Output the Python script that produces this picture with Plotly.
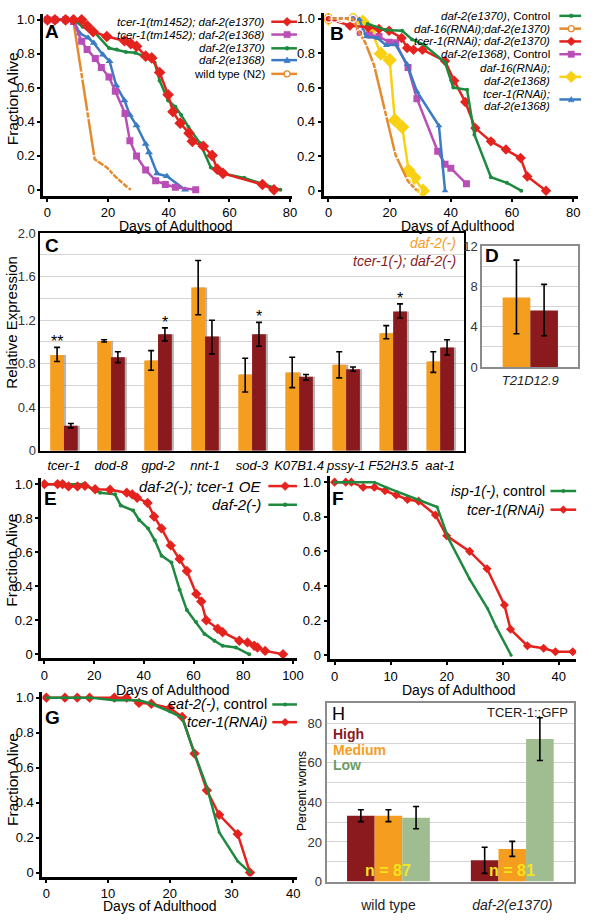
import plotly.graph_objects as go

W, H = 594, 922
FONT = "Liberation Sans, Arial, Helvetica, sans-serif"

RED = "#e4231f"
MAG = "#b94fb6"
GRN = "#1d8a3f"
BLU = "#3b7bc3"
ORG = "#e68a2e"
YEL = "#f9d114"
BAR_ORG = "#f59d1e"
BAR_RED = "#8a1a1d"
BAR_LOW = "#9fbd90"
LOW_TXT = "#6d9c66"
NYEL = "#f2e41c"
SHADOW = "rgba(110,110,110,0.5)"

# ---------------- data ----------------
SURV_TICKS = [0, 0.2, 0.4, 0.6, 0.8, 1.0]
SURV_LABELS = ["0", "0.2", "0.4", "0.6", "0.8", "1.0"]

# Panel A
A_red_x = [0, 2.5, 6, 8.6, 11.3, 13.2, 15.1, 19.6, 25.4, 27.5, 29.4, 32.4, 34.4, 37, 39.8, 41.4, 43.8, 46.7, 47.8, 51.4, 54.3, 56, 57.9, 70.9, 74.7]
A_red_y = [1, 1, 1, 1, 1, 0.963, 0.93, 0.902, 0.877, 0.86, 0.844, 0.786, 0.776, 0.69, 0.559, 0.459, 0.392, 0.333, 0.285, 0.256, 0.202, 0.121, 0.096, 0.031, 0.0]
A_mag_x = [0, 2.5, 6, 8.6, 11.3, 13.1, 15.8, 17.8, 20.3, 22.4, 25.6, 27.2, 29.4, 32.4, 35.7, 38.9, 42.2, 48.9]
A_mag_y = [1, 1, 1, 0.99, 0.874, 0.826, 0.772, 0.72, 0.663, 0.58, 0.449, 0.289, 0.198, 0.117, 0.053, 0.031, 0.015, 0.0]
A_grn_x = [0, 8.6, 11.6, 15.6, 20.3, 22.9, 25.9, 28.9, 32.4, 35.4, 37, 39.8, 42.2, 44.1, 46.5, 50.3, 53.9, 57.9, 64.9, 76.8]
A_grn_y = [1, 1, 0.96, 0.926, 0.834, 0.825, 0.811, 0.806, 0.782, 0.747, 0.642, 0.526, 0.488, 0.44, 0.37, 0.275, 0.131, 0.096, 0.07, 0.0]
A_blu_x = [0, 8.6, 10.7, 13.4, 15.3, 18.3, 20.5, 22.7, 25.4, 27.2, 29.4, 32.4, 33.5, 36.2, 39.4, 45.4]
A_blu_y = [1, 0.997, 0.92, 0.895, 0.863, 0.795, 0.757, 0.613, 0.526, 0.44, 0.378, 0.27, 0.219, 0.095, 0.08, 0.0]
A_org_x = [0, 2.5, 6, 8.6, 11.3, 13.2, 15.6, 19.6, 22.4, 25.7, 27.5]
A_org_y = [1, 1, 1, 0.99, 0.672, 0.44, 0.18, 0.131, 0.077, 0.025, 0.0]

# Panel B
B_grn_x = [12.8, 18.7, 24.1, 27.3, 31.1, 38.1, 40.8, 45.3, 47.7, 53.1, 58.3, 63]
B_grn_y = [0.97, 0.935, 0.93, 0.88, 0.85, 0.745, 0.60, 0.587, 0.326, 0.078, 0.046, 0.0]
B_org_x = [0, 2, 4, 6, 8, 10.1, 12, 14.9, 18.7, 21.9, 26, 28.9]
B_org_y = [1, 1, 1, 1, 1, 0.916, 0.863, 0.73, 0.45, 0.208, 0.055, 0.0]
B_red_x = [0, 7, 13, 16.5, 19.8, 23.9, 25.7, 27.8, 30.7, 38.1, 41.1, 44.7, 48, 53.1, 58, 62.8, 65, 71.1]
B_red_y = [1, 0.96, 0.95, 0.94, 0.93, 0.888, 0.83, 0.82, 0.82, 0.754, 0.64, 0.516, 0.364, 0.287, 0.24, 0.19, 0.083, 0.0]
B_mag_x = [0, 8, 10.1, 13.3, 16.5, 19.8, 22, 26, 28.9, 35.7, 38.1, 40, 45.1]
B_mag_y = [1, 1, 0.92, 0.906, 0.897, 0.863, 0.86, 0.716, 0.535, 0.23, 0.154, 0.131, 0.04]
B_yel_x = [0, 8, 11.2, 13.9, 17.1, 20, 21.7, 24.1, 26.2, 28.1, 30.9]
B_yel_y = [1, 1, 0.983, 0.935, 0.797, 0.76, 0.41, 0.37, 0.117, 0.075, 0.0]
B_blu_x = [0, 8, 10.1, 12.3, 16, 18.9, 21.9, 25.7, 28.9, 36.1, 38.1]
B_blu_y = [1, 1, 0.995, 0.896, 0.888, 0.844, 0.85, 0.735, 0.577, 0.378, 0.0]

# Panel C
C_genes = ["tcer-1", "dod-8", "gpd-2", "nnt-1", "sod-3", "K07B1.4", "pssy-1", "F52H3.5", "aat-1"]
C_daf2 = [0.88, 1.01, 0.83, 1.50, 0.70, 0.72, 0.79, 1.08, 0.82]
C_daf2_lo = [0.82, 1.00, 0.74, 1.25, 0.54, 0.58, 0.67, 1.03, 0.72]
C_daf2_hi = [0.95, 1.02, 0.92, 1.75, 0.85, 0.86, 0.91, 1.15, 0.91]
C_tcer = [0.23, 0.86, 1.07, 1.05, 1.07, 0.68, 0.75, 1.28, 0.95]
C_tcer_lo = [0.21, 0.81, 1.01, 0.89, 0.96, 0.65, 0.73, 1.22, 0.88]
C_tcer_hi = [0.25, 0.91, 1.13, 1.20, 1.18, 0.70, 0.77, 1.35, 1.02]
C_stars = [("tcer-1", "daf2", "**"), ("gpd-2", "tcer", "*"), ("sod-3", "tcer", "*"), ("F52H3.5", "tcer", "*")]
C_TICKS = [0, 0.4, 0.8, 1.2, 1.6, 2.0]
C_LABELS = ["0", "0.4", "0.8", "1.2", "1.6", "2.0"]

# Panel D
D_gene = ["T21D12.9"]
D_daf2 = [6.9]
D_daf2_lo = [3.3]
D_daf2_hi = [10.6]
D_tcer = [5.6]
D_tcer_lo = [3.1]
D_tcer_hi = [8.2]

# Panel E
E_red_x = [0, 5.3, 7.3, 9.7, 13.3, 16.3, 20.4, 26.4, 33.1, 35.3, 37.3, 41.5, 44.1, 47.1, 50.8, 54.4, 57.3, 61.1, 63.1, 65.1, 69.7, 71.7, 78.4, 81.7, 84.4, 85.7, 88.8, 96]
E_red_y = [1, 1, 1, 0.987, 0.987, 0.99, 0.97, 0.967, 0.95, 0.94, 0.92, 0.89, 0.81, 0.74, 0.64, 0.56, 0.49, 0.355, 0.31, 0.2, 0.15, 0.13, 0.08, 0.07, 0.05, 0.04, 0.02, 0.0]
E_grn_x = [0, 15.6, 22.4, 28.4, 30.7, 35.7, 38.1, 41.7, 44.4, 47.1, 51.1, 54.4, 57.3, 61, 64.4, 68.4, 71.7, 77, 82.4]
E_grn_y = [1, 1, 0.95, 0.94, 0.875, 0.845, 0.79, 0.74, 0.67, 0.58, 0.54, 0.38, 0.26, 0.19, 0.12, 0.08, 0.05, 0.04, 0.0]

# Panel F
F_grn_x = [0, 7.1, 9.2, 11.2, 15.0, 18.3, 20.3, 24.1, 27.3, 28.8, 31.5]
F_grn_y = [1, 1, 0.97, 0.945, 0.9, 0.856, 0.676, 0.44, 0.27, 0.165, 0.0]
F_red_x = [0, 2, 3, 5.1, 7.1, 9, 11, 13, 15, 18, 20, 24.1, 27.2, 30.3, 31.4, 34.4, 37.3, 39.4, 42.5]
F_red_y = [1, 1, 1, 0.97, 0.97, 0.95, 0.926, 0.9, 0.89, 0.81, 0.69, 0.6, 0.5, 0.29, 0.15, 0.055, 0.04, 0.02, 0.02]

# Panel G
G_red_x = [0, 3, 5, 7, 11, 13, 15, 17, 20, 22, 24, 26, 28, 31, 33]
G_red_y = [1, 1, 1, 1, 1, 1, 0.97, 0.965, 0.94, 0.89, 0.68, 0.47, 0.33, 0.22, 0.0]
G_grn_x = [0, 3, 5, 7, 11, 15, 17, 20, 22, 24, 26, 28, 31, 33]
G_grn_y = [1, 1, 1, 1, 0.985, 0.985, 0.965, 0.92, 0.885, 0.68, 0.49, 0.23, 0.065, 0.0]

# Panel H
H_groups = ["wild type", "daf-2(e1370)"]
H_group_labels = ["wild type", "<i>daf-2(e1370)</i>"]
H_high = [33.3, 10.7]
H_high_err = [3.0, 6.6]
H_med = [33.3, 16.5]
H_med_err = [3.0, 3.8]
H_low = [32.3, 72.0]
H_low_err = [5.6, 10.8]
H_n = ["n = 87", "n = 81"]

# ---------------- helpers ----------------
fig = go.Figure()
shapes = []
anns = []


def dom_x(a, b):
    return [a / W, b / W]


def dom_y(top, bot):
    return [1 - bot / H, 1 - top / H]


def text(t, xp, yp, size=13, color="black", xanchor="center", yanchor="middle",
         angle=0, bold=False, italic=False):
    if bold:
        t = "<b>" + t + "</b>"
    if italic:
        t = "<i>" + t + "</i>"
    anns.append(dict(text=t, xref="paper", yref="paper", x=xp / W, y=1 - yp / H,
                     xanchor=xanchor, yanchor=yanchor, showarrow=False, textangle=angle,
                     font=dict(family=FONT, size=size, color=color)))


def marker_shape(xm, ym, sym, r, color):
    X = lambda v: v / W
    Y = lambda v: 1 - v / H
    if sym == "diamond":
        path = (f"M {X(xm)},{Y(ym - r)} L {X(xm + r)},{Y(ym)} L {X(xm)},{Y(ym + r)} "
                f"L {X(xm - r)},{Y(ym)} Z")
        shapes.append(dict(type="path", xref="paper", yref="paper", path=path,
                           fillcolor=color, line=dict(color=color, width=0.5)))
    elif sym == "square":
        shapes.append(dict(type="rect", xref="paper", yref="paper", x0=X(xm - r), x1=X(xm + r),
                           y0=Y(ym + r), y1=Y(ym - r), fillcolor=color, line=dict(color=color, width=0.5)))
    elif sym == "triangle":
        path = (f"M {X(xm)},{Y(ym - r)} L {X(xm + r)},{Y(ym + r * 0.8)} L {X(xm - r)},{Y(ym + r * 0.8)} Z")
        shapes.append(dict(type="path", xref="paper", yref="paper", path=path,
                           fillcolor=color, line=dict(color=color, width=0.5)))
    elif sym == "circle":
        shapes.append(dict(type="circle", xref="paper", yref="paper", x0=X(xm - r), x1=X(xm + r),
                           y0=Y(ym + r), y1=Y(ym - r), fillcolor=color, line=dict(color=color, width=0.5)))
    elif sym == "open":
        shapes.append(dict(type="circle", xref="paper", yref="paper", x0=X(xm - r), x1=X(xm + r),
                           y0=Y(ym + r), y1=Y(ym - r), fillcolor="white", line=dict(color=color, width=1.3)))


def legend_line(yp, x0, x1, xm, color, sym, r):
    shapes.append(dict(type="line", xref="paper", yref="paper", x0=x0 / W, x1=x1 / W,
                       y0=1 - yp / H, y1=1 - yp / H, line=dict(color=color, width=2.5)))
    marker_shape(xm, yp, sym, r, color)


def surv(xs, ys, color, symbol, size, ax, width=2.5):
    open_ = symbol.endswith("open")
    fig.add_trace(go.Scatter(
        x=xs, y=ys, mode="lines+markers", xaxis="x" + ax, yaxis="y" + ax,
        line=dict(color=color, width=width),
        marker=dict(symbol=symbol, size=size, color=color if not open_ else "white",
                    line=dict(width=1.3 if open_ else 0, color=color)),
        showlegend=False, hoverinfo="skip"))


def surv_axes(ax, xdom, ydom, xr, yr, dtick):
    k = ax
    common = dict(showline=True, linecolor="black", linewidth=3, ticks="outside", ticklen=3,
                  tickwidth=2, tickcolor="black", showgrid=False, zeroline=False,
                  tickfont=dict(family=FONT, size=13, color="black"))
    fig.layout["xaxis" + k] = dict(domain=xdom, range=xr, dtick=dtick, tick0=0,
                                   anchor="y" + k, **common)
    fig.layout["yaxis" + k] = dict(domain=ydom, range=yr, tickvals=SURV_TICKS, ticktext=SURV_LABELS,
                                   anchor="x" + k, **common)


# ---------------- Panel A ----------------
surv(A_org_x, A_org_y, ORG, "circle-open", 7, "")
surv(A_blu_x, A_blu_y, BLU, "triangle-up", 7, "")
surv(A_mag_x, A_mag_y, MAG, "square", 7, "")
surv(A_grn_x, A_grn_y, GRN, "circle", 4, "")
surv(A_red_x, A_red_y, RED, "diamond", 9, "")
surv_axes("", dom_x(43, 295), dom_y(7, 192), [-1.3, 80.65], [-0.036, 1.035], 20)

# ---------------- Panel B ----------------
surv(B_yel_x, B_yel_y, YEL, "diamond", 11, "2")
surv(B_mag_x, B_mag_y, MAG, "square", 7, "2")
surv(B_blu_x, B_blu_y, BLU, "triangle-up", 6, "2")
surv(B_red_x, B_red_y, RED, "diamond", 8, "2")
surv(B_org_x, B_org_y, ORG, "circle-open", 7, "2")
surv(B_grn_x, B_grn_y, GRN, "circle", 4, "2")
surv_axes("2", dom_x(327, 585), dom_y(6, 192), [-1.6, 81.6], [-0.03, 1.034], 20)

# ---------------- Panel C ----------------
BW = 0.293
SH = 0.045


def errs(vals, lo, hi):
    return [h - v for v, h in zip(vals, hi)], [v - l for v, l in zip(vals, lo)]


for vals, off in [(C_daf2, -BW + SH), (C_tcer, SH)]:
    fig.add_trace(go.Bar(x=C_genes, y=vals, xaxis="x3", yaxis="y3", marker_color=SHADOW,
                         marker_line_width=0, width=BW, offset=off, showlegend=False, hoverinfo="skip"))
p, m = errs(C_daf2, C_daf2_lo, C_daf2_hi)
fig.add_trace(go.Bar(x=C_genes, y=C_daf2, xaxis="x3", yaxis="y3", marker_color=BAR_ORG,
                     marker_line_width=0, width=BW, offset=-BW, showlegend=False, hoverinfo="skip",
                     error_y=dict(type="data", symmetric=False, array=p, arrayminus=m,
                                  color="black", thickness=1.6, width=3)))
p, m = errs(C_tcer, C_tcer_lo, C_tcer_hi)
fig.add_trace(go.Bar(x=C_genes, y=C_tcer, xaxis="x3", yaxis="y3", marker_color=BAR_RED,
                     marker_line_width=0, width=BW, offset=0, showlegend=False, hoverinfo="skip",
                     error_y=dict(type="data", symmetric=False, array=p, arrayminus=m,
                                  color="black", thickness=1.6, width=3)))
fig.layout.xaxis3 = dict(domain=dom_x(40, 469), type="category", range=[-0.5, 8.5], anchor="y3",
                         showline=True, mirror=True, linecolor="black", linewidth=2, ticks="",
                         tickangle=0, ticklabelstandoff=2,
                         tickfont=dict(family=FONT, size=13, color="black", style="italic"))
fig.layout.yaxis3 = dict(domain=dom_y(230, 451), range=[0, 2], anchor="x3", tickvals=C_TICKS,
                         ticktext=C_LABELS, showline=True, mirror=True, linecolor="black", linewidth=2,
                         ticks="", showgrid=True, gridcolor="#d4d4d4", gridwidth=1, zeroline=False,
                         minor=dict(dtick=0.2, showgrid=True, gridcolor="#d4d4d4", gridwidth=1),
                         tickfont=dict(family=FONT, size=13, color="#333"))
for gene, series, star in C_stars:
    i = C_genes.index(gene)
    top = C_daf2_hi[i] if series == "daf2" else C_tcer_hi[i]
    anns.append(dict(text=star, xref="x3", yref="y3", x=gene, y=top, xanchor="center",
                     yanchor="bottom", xshift=-7 if series == "daf2" else 7, yshift=-5,
                     showarrow=False, font=dict(family=FONT, size=16, color="black")))

# ---------------- Panel D ----------------
BWD = 0.289
p, m = errs(D_daf2, D_daf2_lo, D_daf2_hi)
fig.add_trace(go.Bar(x=D_gene, y=D_daf2, xaxis="x4", yaxis="y4", marker_color=BAR_ORG,
                     marker_line_width=0, width=BWD, offset=-BWD, showlegend=False, hoverinfo="skip",
                     error_y=dict(type="data", symmetric=False, array=p, arrayminus=m,
                                  color="black", thickness=1.6, width=3)))
p, m = errs(D_tcer, D_tcer_lo, D_tcer_hi)
fig.add_trace(go.Bar(x=D_gene, y=D_tcer, xaxis="x4", yaxis="y4", marker_color=BAR_RED,
                     marker_line_width=0, width=BWD, offset=0, showlegend=False, hoverinfo="skip",
                     error_y=dict(type="data", symmetric=False, array=p, arrayminus=m,
                                  color="black", thickness=1.6, width=3)))
fig.layout.xaxis4 = dict(domain=dom_x(488, 585), type="category", range=[-0.5, 0.5], anchor="y4",
                         showline=True, mirror=True, linecolor="#8c8c8c", linewidth=2, ticks="",
                         tickfont=dict(family=FONT, size=13, color="#222", style="italic"))
fig.layout.yaxis4 = dict(domain=dom_y(243, 366), range=[0, 12], anchor="x4", dtick=4,
                         showline=True, mirror=True, linecolor="#8c8c8c", linewidth=2, ticks="",
                         showgrid=True, gridcolor="#d4d4d4", zeroline=False,
                         minor=dict(dtick=2, showgrid=True, gridcolor="#d4d4d4"),
                         tickfont=dict(family=FONT, size=13, color="#333"))

# ---------------- Panel E ----------------
surv(E_grn_x, E_grn_y, GRN, "circle", 4, "5")
surv(E_red_x, E_red_y, RED, "diamond", 8, "5")
surv_axes("5", dom_x(41, 300), dom_y(479, 662), [-1.2, 101.6], [-0.023, 1.035], 20)

# ---------------- Panel F ----------------
surv(F_red_x, F_red_y, RED, "diamond", 7, "6")
surv(F_grn_x, F_grn_y, GRN, "circle", 3, "6")
surv_axes("6", dom_x(333, 583), dom_y(477, 663), [-0.9, 43.1], [-0.023, 1.034], 10)

# ---------------- Panel G ----------------
surv(G_red_x, G_red_y, RED, "diamond", 8, "7")
surv(G_grn_x, G_grn_y, GRN, "circle", 3, "7")
surv_axes("7", dom_x(42, 300), dom_y(696, 884), [-0.64, 40.6], [-0.023, 1.034], 10)

# ---------------- Panel H ----------------
BWH = 0.223
for vals, err, col, off in [(H_high, H_high_err, BAR_RED, -1.5 * BWH),
                            (H_med, H_med_err, BAR_ORG, -0.5 * BWH),
                            (H_low, H_low_err, BAR_LOW, 0.5 * BWH)]:
    fig.add_trace(go.Bar(x=H_groups, y=vals, xaxis="x8", yaxis="y8", marker_color=col,
                         marker_line_width=0, width=BWH, offset=off, showlegend=False, hoverinfo="skip",
                         error_y=dict(type="data", array=err, color="black", thickness=1.6, width=3)))
fig.layout.xaxis8 = dict(domain=dom_x(330, 581), type="category", range=[-0.5, 1.5], anchor="y8",
                         showline=True, mirror=True, linecolor="#8c8c8c", linewidth=2, ticks="",
                         tickvals=H_groups, ticktext=H_group_labels, ticklabelstandoff=10,
                         tickfont=dict(family=FONT, size=14, color="#222"))
fig.layout.yaxis8 = dict(domain=dom_y(708, 889), range=[0, 90], anchor="x8", dtick=20,
                         showline=True, mirror=True, linecolor="#8c8c8c", linewidth=2, ticks="",
                         showgrid=True, gridcolor="#d4d4d4", zeroline=False,
                         minor=dict(dtick=10, showgrid=True, gridcolor="#d4d4d4"),
                         tickfont=dict(family=FONT, size=13, color="#333"))
for g, n in zip(H_groups, H_n):
    anns.append(dict(text="<b>" + n + "</b>", xref="x8", yref="y8", x=g, y=5.5, showarrow=False,
                     xanchor="center", yanchor="middle",
                     font=dict(family=FONT, size=16, color=NYEL)))

# ---------------- text: titles, letters, legends ----------------
text("Fraction Alive", 12, 93, size=15.5, angle=-90)
text("Fraction Alive", 11, 562, size=15.5, angle=-90)
text("Fraction Alive", 11, 785, size=15.5, angle=-90)
text("Relative Expression", 11, 320, size=15, angle=-90)
text("Percent worms", 305, 797, size=12, angle=-90)
text("Days of Adulthood", 177, 223, size=14)
text("Days of Adulthood", 463, 223, size=14)
text("Days of Adulthood", 174, 694, size=14)
text("Days of Adulthood", 464, 694, size=14)
text("Days of Adulthood", 161, 914, size=14)

for L, x, y in [("A", 52, 25), ("B", 341, 27), ("C", 52, 242), ("D", 498, 253),
                ("E", 50, 500), ("F", 342, 500), ("G", 52, 722)]:
    text(L, x, y, size=19, bold=True)
text("H", 342, 719, size=18)
text("TCER-1::GFP", 577, 717, size=13, xanchor="right", color="#222")
text("High", 334, 739, size=14, bold=True, color=BAR_RED, xanchor="left")
text("Medium", 334, 755, size=14, bold=True, color=BAR_ORG, xanchor="left")
text("Low", 334, 771, size=14, bold=True, color=LOW_TXT, xanchor="left")

text("daf-2(-)", 463, 240, size=14, italic=True, color=BAR_ORG, xanchor="right")
text("tcer-1(-); daf-2(-)", 463, 258, size=14, italic=True, color=BAR_RED, xanchor="right")

# Legend A
for t, y, col, sym, r in [("<i>tcer-1(tm1452); daf-2(e1370)</i>", 15, RED, "diamond", 4.5),
                          ("<i>tcer-1(tm1452); daf-2(e1368)</i>", 28, MAG, "square", 3.2),
                          ("<i>daf-2(e1370)</i>", 42, GRN, "circle", 2),
                          ("<i>daf-2(e1368)</i>", 54, BLU, "triangle", 3.2),
                          ("wild type (N2)", 68, ORG, "open", 3)]:
    text(t, 270, y, size=11.5, xanchor="right")
    legend_line(y, 274, 300, 290, col, sym, r)

# Legend B
for t, y in [("<i>daf-2(e1370)</i>, Control", 9), ("<i>daf-16(RNAi);daf-2(e1370)</i>", 22),
             ("<i>tcer-1(RNAi); daf-2(e1370)</i>", 35), ("<i>daf-2(e1368)</i>, Control", 48),
             ("<i>daf-16(RNAi);</i>", 62), ("<i>daf-2(e1368)</i>", 75),
             ("<i>tcer-1(RNAi);</i>", 88), ("<i>daf-2(e1368)</i>", 101)]:
    text(t, 559, y, size=11.5, xanchor="right")
for y, col, sym, r in [(9, GRN, "circle", 2), (22, ORG, "open", 3), (35, RED, "diamond", 4.5),
                       (48, MAG, "square", 3.2), (71, YEL, "diamond", 6), (94, BLU, "triangle", 3)]:
    legend_line(y, 566, 588, 578, col, sym, r)

# Legend E
text("<i>daf-2(-); tcer-1 OE</i>", 266, 487, size=15, xanchor="right")
legend_line(487, 271, 300, 288, RED, "diamond", 4.5)
text("<i>daf-2(-)</i>", 266, 506, size=15, xanchor="right")
legend_line(506, 271, 300, 288, GRN, "circle", 2)

# Legend F
text("<i>isp-1(-)</i>, control", 553, 492, size=14, xanchor="right")
legend_line(492, 557, 583, 570, GRN, "circle", 1.8)
text("<i>tcer-1(RNAi)</i>", 553, 511, size=14, xanchor="right")
legend_line(511, 557, 583, 570, RED, "diamond", 4)

# Legend G
text("<i>eat-2(-)</i>, control", 272, 709, size=14.5, xanchor="right")
legend_line(709, 275, 300, 288, GRN, "circle", 1.8)
text("<i>tcer-1(RNAi)</i>", 272, 727, size=14.5, xanchor="right")
legend_line(727, 275, 300, 288, RED, "diamond", 4)

fig.update_layout(width=W, height=H, margin=dict(l=0, r=0, t=0, b=0), paper_bgcolor="white",
                  plot_bgcolor="white", barmode="overlay", showlegend=False,
                  font=dict(family=FONT, color="black"), shapes=shapes, annotations=anns)
fig.write_html("out.html", config={"displayModeBar": False},
               post_script="document.body.style.margin='0';document.body.style.overflow='hidden';")
